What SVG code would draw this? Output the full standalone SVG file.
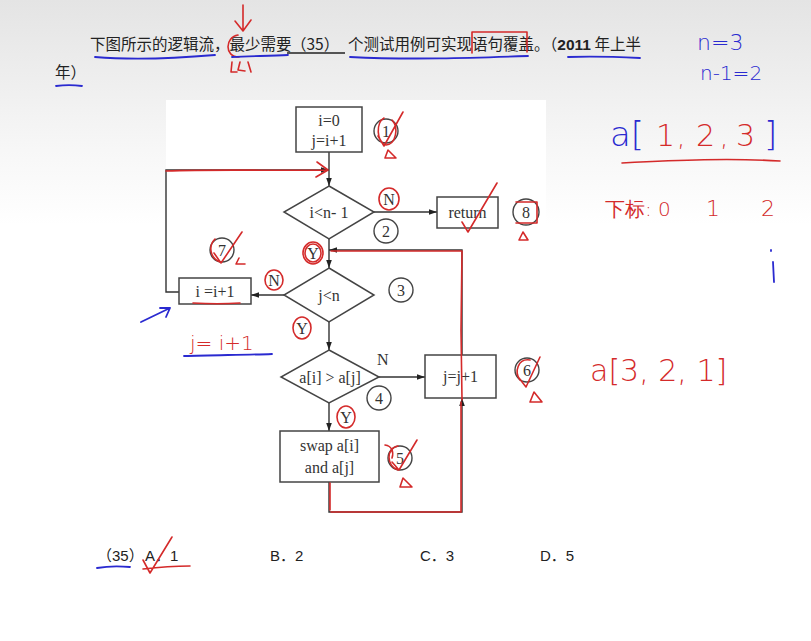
<svg xmlns="http://www.w3.org/2000/svg" width="811" height="641" viewBox="0 0 811 641">
<defs>
<linearGradient id="bg" x1="0" y1="0" x2="0" y2="1">
<stop offset="0" stop-color="#e4e4e4"/>
<stop offset="0.22" stop-color="#f6f6f6"/>
<stop offset="0.35" stop-color="#ffffff"/>
<stop offset="1" stop-color="#ffffff"/>
</linearGradient>
<marker id="ar" viewBox="0 0 10 10" refX="10" refY="5" markerWidth="8" markerHeight="8" orient="auto-start-reverse" markerUnits="userSpaceOnUse">
<path d="M0,1.5 L10,5 L0,8.5 Z" fill="#222"/>
</marker>
<style>
.q{font-family:"Noto Sans CJK SC","Liberation Sans",sans-serif;font-size:15.5px;fill:#222}
.f{font-family:"Liberation Serif",serif;font-size:16px;fill:#333}
.bx{fill:#fff;stroke:#444;stroke-width:1.5}
.ln{fill:none;stroke:#333;stroke-width:1.4}
.c{fill:none;stroke:#444;stroke-width:1.4}
.rd{fill:none;stroke:#d42a2a;stroke-width:1.6;stroke-linecap:round;stroke-linejoin:round}
.bl{fill:none;stroke:#2a2ad0;stroke-width:1.8;stroke-linecap:round;stroke-linejoin:round}
.hb{font-family:"DejaVu Sans","Liberation Sans",sans-serif;fill:#2a2ad0;font-weight:200}
.hr{font-family:"DejaVu Sans","Liberation Sans",sans-serif;fill:#d42a2a;font-weight:200}
.ans{font-family:"Liberation Sans","Noto Sans CJK SC",sans-serif;font-size:15px;fill:#222}
</style>
</defs>
<rect width="811" height="641" fill="url(#bg)"/>
<rect x="166" y="100" width="380" height="418" fill="#ffffff"/>

<!-- question text -->
<g id="question">
<text class="q" x="90" y="50" font-size="15">下图所示的逻辑流，最少需要</text>
<text class="q" x="291" y="50" font-size="15">（35）</text>
<line x1="287" y1="53" x2="345" y2="53" stroke="#222" stroke-width="1.5"/>
<text class="q" x="348" y="50">个测试用例可实现语句覆盖。（<tspan font-family="Liberation Sans" font-weight="bold">2011</tspan> 年上半</text>
<text class="q" x="55" y="78">年）</text>
</g>

<!-- connectors -->
<g id="connectors">
<line class="ln" x1="329" y1="152" x2="329" y2="186" marker-end="url(#ar)"/>
<polyline class="ln" points="179,292 166,292 166,170 329,170" marker-end="url(#ar)"/>
<line class="ln" x1="374" y1="212" x2="437" y2="212" marker-end="url(#ar)"/>
<line class="ln" x1="329" y1="239" x2="329" y2="268" marker-end="url(#ar)"/>
<line class="ln" x1="284" y1="295" x2="251" y2="295" marker-end="url(#ar)"/>
<line class="ln" x1="329" y1="322" x2="329" y2="350" marker-end="url(#ar)"/>
<line class="ln" x1="379" y1="377" x2="425" y2="377" marker-end="url(#ar)"/>
<line class="ln" x1="329" y1="403" x2="329" y2="431" marker-end="url(#ar)"/>
<polyline class="ln" points="329,482 329,512 462,512 462,398" marker-end="url(#ar)"/>
<polyline class="ln" points="462,355 462,250 329,250" marker-end="url(#ar)"/>
<text class="f" x="377" y="365">N</text>
</g>

<g id="n1">
<rect class="bx" x="296" y="107" width="66" height="45"/>
<text class="f" x="329" y="126" text-anchor="middle">i=0</text>
<text class="f" x="329" y="146" text-anchor="middle">j=i+1</text>
<circle class="c" cx="386" cy="131" r="12"/>
<text class="f" x="386" y="137" text-anchor="middle">1</text>
</g>
<g id="n2">
<polygon class="bx" points="329,186 374,212 329,239 284,212"/>
<text class="f" x="329" y="218" text-anchor="middle">i&lt;n- 1</text>
<circle class="c" cx="386" cy="231" r="12"/>
<text class="f" x="386" y="237" text-anchor="middle">2</text>
</g>
<g id="n8">
<rect class="bx" x="437" y="197" width="61" height="31"/>
<text class="f" x="467.5" y="218" text-anchor="middle">return</text>
<circle class="c" cx="526" cy="212" r="13"/>
<text class="f" x="526" y="218" text-anchor="middle">8</text>
</g>
<g id="n3">
<polygon class="bx" points="329,268 374,295 329,322 284,295"/>
<text class="f" x="329" y="301" text-anchor="middle">j&lt;n</text>
<circle class="c" cx="401" cy="290" r="12"/>
<text class="f" x="401" y="296" text-anchor="middle">3</text>
</g>
<g id="n7">
<rect class="bx" x="179" y="278" width="72" height="26"/>
<text class="f" x="215" y="297" text-anchor="middle">i =i+1</text>
<circle class="c" cx="222" cy="250" r="12"/>
<text class="f" x="222" y="256" text-anchor="middle">7</text>
</g>
<g id="n4">
<polygon class="bx" points="329,350 379,377 329,403 281,377"/>
<text class="f" x="330" y="383" text-anchor="middle">a[i] &gt; a[j]</text>
<circle class="c" cx="379" cy="398" r="12"/>
<text class="f" x="379" y="404" text-anchor="middle">4</text>
</g>
<g id="n6">
<rect class="bx" x="425" y="355" width="71" height="43"/>
<text class="f" x="460.5" y="382" text-anchor="middle">j=j+1</text>
<circle class="c" cx="527" cy="370" r="12"/>
<text class="f" x="527" y="376" text-anchor="middle">6</text>
</g>
<g id="n5">
<rect class="bx" x="280" y="431" width="99" height="51"/>
<text class="f" x="329.5" y="451" text-anchor="middle">swap a[i]</text>
<text class="f" x="329.5" y="473" text-anchor="middle">and a[j]</text>
<circle class="c" cx="400" cy="458" r="12"/>
<text class="f" x="400" y="464" text-anchor="middle">5</text>
</g>

<!-- answers -->
<g id="answers">
<text class="ans" x="97" y="561">（35）</text>
<text class="ans" x="145" y="561">A．1</text>
<text class="ans" x="270" y="561">B．2</text>
<text class="ans" x="420" y="561">C．3</text>
<text class="ans" x="540" y="561">D．5</text>
</g>

<!-- handwritten annotations -->
<g id="annotations">
<!-- top text marks -->
<path class="rd" d="M243,5 L243,30 M235,21 L243,31 L251,20"/>
<path class="rd" d="M238,35 C225,37 224,57 239,57"/>
<path class="rd" d="M232,62 L231,72 L237,72 M240,62 L238,70 L245,71 M248,62 L251,72"/>
<path class="rd" d="M472,53 L472,32 L527,32 L527,52"/>
<path class="bl" d="M95,57 C130,60 180,58 215,55"/>
<path class="bl" d="M232,57 C250,56 270,56 288,55"/>
<path class="bl" d="M350,57 C410,60 470,58 528,56"/>
<path class="bl" d="M568,57 C590,56 620,57 640,58"/>
<path class="bl" d="M56,86 C64,85 74,85 82,86"/>
<text class="hb" x="697" y="50" font-size="22">n=3</text>
<text class="hb" x="700" y="80" font-size="20">n-1=2</text>

<text class="hb" x="610" y="146" font-size="34">a[</text>
<text class="hr" x="656" y="146" font-size="30">1</text>
<text class="hr" x="677" y="146" font-size="26">,</text>
<text class="hr" x="696" y="146" font-size="30">2</text>
<text class="hr" x="720" y="146" font-size="26">,</text>
<text class="hr" x="736" y="146" font-size="30">3</text>
<text class="hb" x="764" y="146" font-size="34">]</text>
<path class="rd" d="M622,163 C680,160 730,158 780,161"/>
<text class="hr" x="605" y="216" font-size="20">下标: 0</text>
<text class="hr" x="706" y="216" font-size="22">1</text>
<text class="hr" x="761" y="216" font-size="22">2</text>
<path class="bl" d="M771,250 L771,251 M773,262 L774,282"/>
<text class="hr" x="590" y="381" font-size="30">a[3, 2, 1]</text>

<!-- flowchart marks -->
<path class="rd" d="M166,171 C220,169 280,171 327,170 M317,162 L328,170 L316,177"/>
<path class="rd" d="M331,251 L462,251 L461,330 L462,400 M331,512 L461,512 L461,402 M330,483 L330,510"/>
<path class="rd" d="M384,118 C376,122 376,142 386,145 C396,144 399,128 392,120 M378,136 L384,146 L403,112 M388,150 L385,158 L396,158 Z"/>
<ellipse class="rd" cx="389" cy="199" rx="10" ry="11"/>
<text class="f" x="389" y="205" text-anchor="middle">N</text>
<ellipse class="rd" cx="313" cy="253" rx="10" ry="11"/>
<ellipse class="rd" cx="313" cy="253" rx="8" ry="9"/>
<text class="f" x="313" y="259" text-anchor="middle">Y</text>
<path class="rd" d="M462,222 L468,232 L497,183 M516,202 L537,202 L537,223 L516,223 M523,232 L519,240 L528,240 Z"/>
<path class="rd" d="M215,239 C208,246 210,258 220,262 M214,253 L221,263 L242,232 M239,258 L236,264 L245,264"/>
<ellipse class="rd" cx="274" cy="280" rx="9" ry="10"/>
<text class="f" x="274" y="286" text-anchor="middle">N</text>
<path class="rd" d="M193,303 C210,304 225,304 240,303"/>
<ellipse class="rd" cx="302" cy="328" rx="9" ry="11"/>
<text class="f" x="302" y="334" text-anchor="middle">Y</text>
<ellipse class="rd" cx="346" cy="417" rx="9" ry="11"/>
<text class="f" x="346" y="423" text-anchor="middle">Y</text>
<path class="rd" d="M530,360 C518,358 514,372 520,380 M519,378 L526,387 L540,357 M534,392 L530,402 L542,402 Z"/>
<path class="rd" d="M385,445 C392,446 394,452 392,458 M398,446 C386,448 386,466 398,470 M392,462 L399,470 L417,440 M403,478 L400,487 L412,487 Z"/>
<text class="hr" x="190" y="350" font-size="20">j= i+1</text>
<path class="bl" d="M184,356 C210,355 245,355 272,354"/>
<path class="bl" d="M141,322 L170,308 M160,308 L170,308 L166,317"/>
<!-- answer marks -->
<path class="bl" d="M97,568 C108,566 120,566 130,567"/>
<path class="rd" d="M143,560 L150,573 L172,537 M143,569 C160,567 175,566 190,566"/>
</g>
</svg>
